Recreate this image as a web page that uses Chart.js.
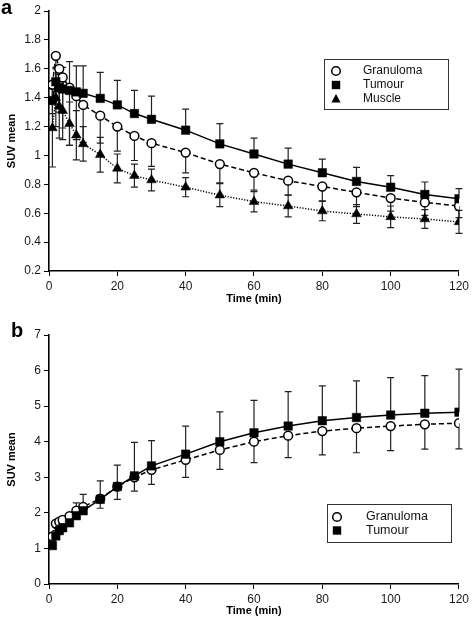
<!DOCTYPE html>
<html><head><meta charset="utf-8">
<script src="https://cdn.jsdelivr.net/npm/chart.js@4/dist/chart.umd.min.js"></script>
<style>
html,body{margin:0;padding:0;background:#fff;}
#wrap{position:relative;width:472px;height:624px;overflow:hidden;}
canvas{position:absolute;left:0;}
#ca{top:0;}
#cb{top:312px;}
.lbl{position:absolute;font:bold 20px "Liberation Sans",Arial,sans-serif;color:#000;line-height:20px;}
</style></head>
<body>
<div id="wrap">
<canvas id="ca" width="472" height="312"></canvas>
<canvas id="cb" width="472" height="312"></canvas>
<div class="lbl" style="left:1px;top:-3px">a</div>
<div class="lbl" style="left:11px;top:320px">b</div>
</div>
<script>
// ---- data ----
const times = [1,2,3,4,6,8,10,15,20,25,30,40,50,60,70,80,90,100,110,120];

// panel a
const granulomaA = [1.49,1.69,1.60,1.54,1.47,1.41,1.35,1.275,1.20,1.135,1.085,1.02,0.94,0.88,0.825,0.785,0.745,0.705,0.675,0.65];
const tumourA    = [1.38,1.51,1.47,1.46,1.45,1.44,1.43,1.395,1.35,1.29,1.25,1.175,1.08,1.01,0.94,0.88,0.82,0.78,0.73,0.70];
const muscleA    = [1.19,1.40,1.34,1.31,1.22,1.14,1.08,1.005,0.91,0.86,0.83,0.78,0.725,0.68,0.65,0.615,0.595,0.575,0.56,0.54];
const tumourAUp       = [0.12,0.10,0.14,0.15,0.20,0.18,0.19,0.18,0.17,0.16,0.16,0.145,0.14,0.11,0.11,0.095,0.097,0.08,0.086,0.07];
const granulomaADown  = [0.20,0.25,0.30,0.35,0.40,0.30,0.26,0.19,0.17,0.17,0.16,0.14,0.13,0.12,0.10,0.10,0.10,0.09,0.09,0.08];
const muscleAErr      = [0.27,0.20,0.22,0.20,0.15,0.17,0.12,0.12,0.10,0.08,0.075,0.066,0.08,0.07,0.075,0.067,0.065,0.075,0.065,0.08];

// panel b
const granulomaB = [1.33,1.70,1.75,1.80,1.91,2.06,2.17,2.40,2.74,3.00,3.21,3.49,3.77,4.00,4.17,4.30,4.38,4.44,4.49,4.52];
const tumourB    = [1.08,1.35,1.50,1.58,1.72,1.92,2.06,2.38,2.74,3.04,3.32,3.65,4.00,4.25,4.44,4.59,4.68,4.75,4.80,4.83];
const tumourBUp      = [0.10,0.15,0.20,0.20,0.25,0.36,0.46,0.52,0.60,0.94,0.71,0.79,0.84,0.91,0.97,0.98,1.03,1.05,1.06,1.21];
const granulomaBDown = [0.10,0.10,0.12,0.12,0.15,0.18,0.20,0.27,0.36,0.39,0.41,0.49,0.55,0.59,0.62,0.67,0.69,0.69,0.70,0.72];

const xTicks = [0,20,40,60,80,100,120];
const yTicksA = [0.2,0.4,0.6,0.8,1,1.2,1.4,1.6,1.8,2];
const yTicksB = [0,1,2,3,4,5,6,7];

const labels = {granuloma:'Granuloma', tumour:'Tumour', muscle:'Muscle', x:'Time (min)', y:'SUV mean'};

// ---- helpers ----
const FONT = '"Liberation Sans", Arial, Helvetica, sans-serif';
Chart.defaults.font.family = FONT;
Chart.defaults.color = '#111';

function pts(v){ return times.map((t,i)=>({x:t,y:v[i]})); }

function drawMarker(ctx, style, x, y){
  ctx.save();
  ctx.lineWidth = 1.5; ctx.strokeStyle = '#000'; ctx.fillStyle = '#000';
  if(style==='circle'){
    ctx.beginPath(); ctx.arc(x,y,4.3,0,Math.PI*2); ctx.fillStyle='#fff'; ctx.fill(); ctx.stroke();
  } else if(style==='rect'){
    ctx.fillRect(x-4.2,y-4.2,8.4,8.4);
  } else {
    ctx.beginPath(); ctx.moveTo(x,y-5); ctx.lineTo(x+4.6,y+3.6); ctx.lineTo(x-4.6,y+3.6); ctx.closePath(); ctx.fill();
  }
  ctx.restore();
}

const errorBars = {
  id:'errorBars',
  beforeDatasetsDraw(chart){
    const ctx = chart.ctx, xs = chart.scales.x, ys = chart.scales.y;
    ctx.save();
    ctx.strokeStyle = '#222'; ctx.lineWidth = 1.2;
    chart.data.datasets.forEach(ds=>{
      ds.data.forEach((p,i)=>{
        const x = xs.getPixelForValue(p.x);
        const y0 = ys.getPixelForValue(p.y);
        const segs = [];
        if(ds.errUp) segs.push(ys.getPixelForValue(p.y + ds.errUp[i]));
        if(ds.errDown) segs.push(ys.getPixelForValue(p.y - ds.errDown[i]));
        segs.forEach(ye=>{
          ctx.beginPath();
          ctx.moveTo(x,y0); ctx.lineTo(x,ye);
          ctx.moveTo(x-3.5,ye); ctx.lineTo(x+3.5,ye);
          ctx.stroke();
        });
      });
    });
    ctx.restore();
  }
};

const boxLegend = {
  id:'boxLegend',
  afterDraw(chart, args, opts){
    const ctx = chart.ctx;
    ctx.save();
    ctx.strokeStyle = '#333'; ctx.lineWidth = 1;
    ctx.strokeRect(opts.x+0.5, opts.y+0.5, opts.w, opts.h);
    ctx.font = opts.fontSize + 'px ' + FONT;
    ctx.fillStyle = '#111'; ctx.textBaseline = 'middle'; ctx.textAlign='left';
    chart.data.datasets.forEach((ds,i)=>{
      const yy = opts.y + opts.first + i*opts.step;
      drawMarker(ctx, ds.pointStyle, opts.x + opts.mx, yy);
      ctx.fillText(ds.label, opts.x + opts.tx, yy);
    });
    ctx.restore();
  }
};

function scaleCfg(axis, min, max, step, ticksArr, title, fitSize){
  const isX = axis==='x';
  return {
    type:'linear', min:min, max:max,
    afterBuildTicks(s){ s.ticks = ticksArr.map(v=>({value:v})); },
    afterFit(s){ if(isX) s.height = fitSize; else s.width = fitSize; },
    ticks:{
      stepSize:step, color:'#1a1a1a', font:{size:12}, padding:3,
      callback:(v)=> String(Math.round(v*10)/10)
    },
    grid:{drawOnChartArea:false, drawTicks:true, tickLength:5, color:'#000', lineWidth:1},
    border:{display:true, color:'#000', width:1.6},
    title:{display:true, text:title, color:'#000', font:{size:11, weight:'bold'}, padding: isX ? {top:4,bottom:6} : {top:5,bottom:2}}
  };
}

function ds(label, data, style, dash, extra){
  const filled = style!=='circle';
  return Object.assign({
    label:label, data:pts(data), pointStyle:style,
    borderColor:'#000', borderWidth:1.5, borderDash:dash,
    pointBackgroundColor: filled ? '#000' : '#fff',
    pointBorderColor:'#000', pointBorderWidth: filled ? 0.5 : 1.5,
    pointRadius: style==='circle' ? 4.4 : (style==='rect' ? 6 : 5.6),
    pointHoverRadius:0, tension:0, fill:false, showLine:true
  }, extra||{});
}

new Chart(document.getElementById('ca'), {
  type:'scatter',
  data:{datasets:[
    ds(labels.granuloma, granulomaA, 'circle', [5,3], {errDown:granulomaADown, order:2}),
    ds(labels.tumour, tumourA, 'rect', [], {errUp:tumourAUp, order:1}),
    ds(labels.muscle, muscleA, 'triangle', [1.2,1.6], {errUp:muscleAErr, errDown:muscleAErr, order:3})
  ]},
  options:{
    responsive:false, animation:false, events:[],
    layout:{padding:{top:11,right:11,left:0,bottom:0}},
    plugins:{legend:{display:false}, tooltip:{enabled:false},
      boxLegend:{x:324, y:59, w:124, h:50, first:12, step:14, mx:12, tx:39, fontSize:12}},
    scales:{
      x: scaleCfg('x',0,120,20,xTicks,labels.x,41),
      y: scaleCfg('y',0.2,2,0.2,yTicksA,labels.y,49)
    }
  },
  plugins:[errorBars, boxLegend]
});

new Chart(document.getElementById('cb'), {
  type:'scatter',
  data:{datasets:[
    ds(labels.granuloma, granulomaB, 'circle', [5,3], {errDown:granulomaBDown, order:2}),
    ds(labels.tumour, tumourB, 'rect', [], {errUp:tumourBUp, order:1})
  ]},
  options:{
    responsive:false, animation:false, events:[],
    layout:{padding:{top:23,right:11,left:0,bottom:0}},
    plugins:{legend:{display:false}, tooltip:{enabled:false},
      boxLegend:{x:327, y:192, w:124, h:38, first:13, step:13.5, mx:10, tx:39, fontSize:12.5}},
    scales:{
      x: scaleCfg('x',0,120,20,xTicks,labels.x,40),
      y: scaleCfg('y',0,7,1,yTicksB,labels.y,49)
    }
  },
  plugins:[errorBars, boxLegend]
});
</script>
</body></html>
